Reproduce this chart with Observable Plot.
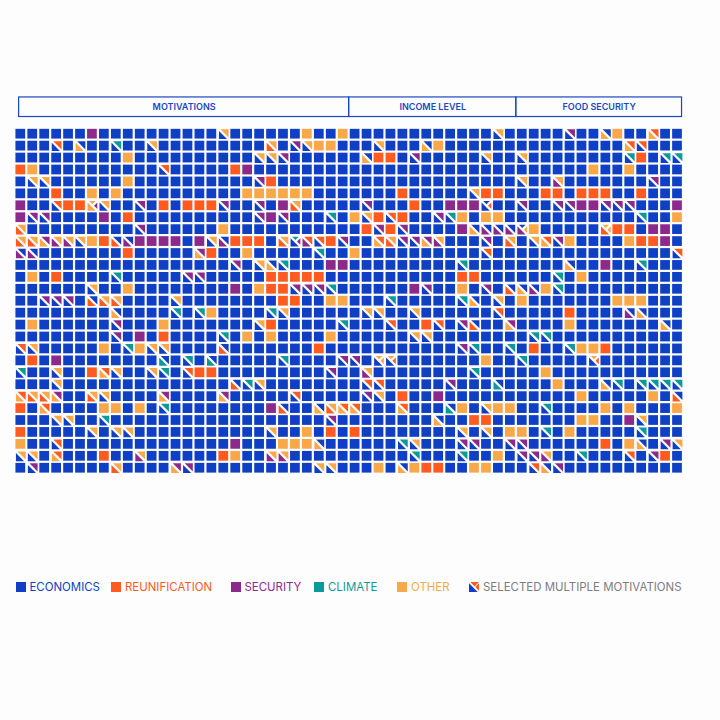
<!DOCTYPE html>
<html>
<head>
<meta charset="utf-8">
<script src="https://cdn.jsdelivr.net/npm/d3@7"></script>
<script src="https://cdn.jsdelivr.net/npm/@observablehq/plot@0.6"></script>
<style>
  html, body { margin: 0; padding: 0; background: #fdfdfd; width: 720px; height: 720px; overflow: hidden; }
  #chart { position: absolute; left: 0; top: 0; }
  #chart svg { display: block; }
  .item { position: absolute; top: 581.5px; height: 11px; font: 400 11.45px/11px Inter, "Liberation Sans", sans-serif; white-space: nowrap; }
  .item svg { position: absolute; left: 0; top: 0; }
  .item span { position: absolute; left: 14px; top: 0; }
</style>
</head>
<body>
<div id="chart"></div>
<div id="legend"></div>
<script>
// Categories: E economics, R reunification, S security, C climate, O other
const categoryKeys = ["E", "R", "S", "C", "O"];
const categoryNames = ["ECONOMICS", "REUNIFICATION", "SECURITY", "CLIMATE", "OTHER"];
const categoryColors = ["#0f3fc4", "#ff5a1f", "#8c2a8c", "#0b9a9a", "#f9a849"];
const multiLabel = "SELECTED MULTIPLE MOTIVATIONS";
const multiColor = "#7c7c84";

// Column groups
const groupNames = ["MOTIVATIONS", "INCOME LEVEL", "FOOD SECURITY"];
const groupStarts = [0.36, 28, 42];
const groupEnds = [28, 42, 55.88];

const columnCount = 56;
// Each row lists the respondents that are not plain economics: column + code.
// One letter: a single motivation. Two letters: lower-left, upper-right.
// Three letters: lower-left, top, right.
const rowCells = [
  "6S 17EO 24O 27O 40EO 46ES 49OE 50O 53OR",
  "3ER 5OE 8EC 11EO 21RO 23ES 24EO 25O 26O 30EO 34OE 35O 51OR 52ER",
  "9O 20EO 21EO 22ES 29OE 30R 31R 33ES 39EO 42EO 51EC 52R 54EC 55EC",
  "0R 1O 12ER 18R 19S 48O 51O",
  "1EO 2EO 9O 20ES 21R 42EO 45SO 53ES",
  "3R 6O 8O 19O 20O 21O 22O 23O 24O 32R 38EO 39R 40R 44R 45R 47R 48R 49R 52R",
  "0S 3ER 4R 5R 6OOS 7EO 10ES 12R 14R 15R 16R 17ES 20ES 22S 23RO 29ES 33R 36S 37S 38S 39EER 42ES 45ES 46ES 47S 48S 49ES 50ES 51ES 55S",
  "0S 1ES 2ES 7S 9R 20ES 21S 22ES 26EC 28O 29EO 30R 31ER 32R 35ES 36EC 37O 39O 40O 52EC 55O",
  "0RO 10ES 17O 29R 30ES 31R 32ES 37S 38OE 39SE 40SE 41SE 42SEO 43O 49ROO 50R 51R 53S 54S",
  "0RO 1RO 2OS 3SO 4SO 5EO 6O 7R 8RE 9SE 10S 11S 12S 13S 15S 16EO 17SE 18R 19R 20R 22RO 23ECS 24SR 25ER 26R 27ES 30OR 31RO 32ES 33ES 34OS 35SO 39ES 41RO 43EO 44OR 45ES 46O 51O 52R 53R 54S",
  "0SE 1SE 9R 15OS 16R 19O 25EC 28O 39ER 55ER",
  "18ES 20EO 21OE 22EC 26S 27S 37EC 46OE 49S 52EC",
  "1O 3R 8EC 14ES 15ES 21R 22R 23R 24R 25R 37R 38R 45EC 47O",
  "6EO 9O 18S 20O 21R 22R 23ES 24ES 25ES 26EC 33S 34ES 37O 39ES 41RE 42OE 43SE 44O 45EC",
  "2ES 3ES 4ES 6RE 7RO 8RO 13EO 22R 23R 26O 27O 31EC 37EC 38OE 40EO 42O 50O 51O 52O",
  "8OE 13EC 15EC 16O 21EC 22EO 29EO 30EO 33EO 40ER 46R 51SE 52OE",
  "1O 8ES 12O 20EO 21R 27EC 31ER 34R 35ER 37ES 38RE 41OS 46O 54OE",
  "8ES 10S 12R 17EC 19O 21O 26O 33EO 34EO 43EC 44EC",
  "0ER 1EO 7O 9EC 10O 11EO 12EO 17RE 25R 37ES 38EC 41EC 43R 46EC 47O 48O 49R",
  "1R 3S 12CE 14EC 16CE 22EC 27ES 28ES 30EOO 31EOR 39O 42EC 48EOR",
  "0EC 3EO 6R 7OR 8EO 11EO 12EC 14ER 15R 16R 26ES 29SO 38EC 44O",
  "3EO 18RE 19EC 20EO 29ER 30ER 36ES 40CE 45O 49OE 50EC 52EC 53EC 54EC 55EC",
  "0OR 1RO 2RO 3OS 6RO 7EO 12OS 17OS 23ER 29ES 30EO 32R 35S 47O 53O 55RE",
  "0R 2OR 7O 8O 10O 12EC 21S 22RE 25OE 26RO 27OR 28OR 32OR 36CE 37O 39EO 40O 41O 44EC 49O 51O 55O",
  "3EO 4EO 7EC 26ES 35OE 38R 39R 47O 48O 51S 52EO",
  "0R 6EO 8EO 9EO 21EO 24O 26R 28R 37EO 39EO 41O 42O 44EC 46O 52EC",
  "0O 3ER 18S 22O 23O 24O 25OE 32EC 33EO 37ES 38ES 41ES 42ES 49R 51O 52OE 54ES 55EO",
  "0EO 1EO 3OR 7R 10SO 17R 18O 21SO 22SO 33EC 37EC 40O 42ES 43ES 44SO 47EC 51ER 53ES 54R",
  "1ES 8RO 13OS 14ES 25EO 26EO 30O 32OE 33O 34R 35R 38O 39O 43ER 44OE 45ES"
];

// Expand to one record per respondent
const cells = [];
rowCells.forEach((line, r) => {
  const codes = new Map(line.split(" ").map(t => [+t.match(/\d+/)[0], t.match(/[A-Z]+/)[0]]));
  for (let c = 0; c < columnCount; ++c) {
    const code = codes.get(c) ?? "E";
    cells.push({r, c, code});
  }
});
const solid = cells.filter(d => d.code.length === 1);
const split = cells.filter(d => d.code.length > 1);
const halves = split.filter(d => d.code.length === 2);
const thirds = split.filter(d => d.code.length === 3);
const groups = groupNames.map((name, i) => ({name, start: groupStarts[i], end: groupEnds[i]}));

// Triangular symbols; gap keeps the white diagonal between the parts
const gap = 1.6;
const shape = pts => ({
  draw(ctx, size) {
    const s = Math.sqrt(size / Math.PI);
    pts(s).forEach(([x, y], i) => i ? ctx.lineTo(x, y) : ctx.moveTo(x, y));
    ctx.closePath();
  }
});
const lowerLeft = shape(s => [[-s, -s + gap], [-s, s], [s - gap, s]]);
const upperRight = shape(s => [[-s + gap, -s], [s, -s], [s, s - gap]]);
const topPart = shape(s => [[-s + gap, -s], [s - gap, -s], [0, -gap]]);
const rightPart = shape(s => [[s, -s + gap], [s, s - gap], [gap, 0]]);

const pitchX = 11.94, pitchY = 11.93, inset = 1.1;
const side = 4.87;
const blue = "#1b47c6";
const X = d => d.c + 0.5, Y = d => d.r + 0.5;
const tri = (data, symbol, fill) => Plot.dot(data, {x: X, y: Y, r: side, symbol, fill, stroke: "none"});

const height = 540;
const top0 = 127.73;
const left0 = 14.33;

const chart = Plot.plot({
  width: 720,
  height,
  marginLeft: left0,
  marginRight: 720 - left0 - pitchX * columnCount,
  marginTop: top0,
  marginBottom: height - top0 - pitchY * rowCells.length,
  style: {background: "transparent"},
  x: {axis: null, domain: [0, columnCount]},
  y: {axis: null, domain: [0, rowCells.length], reverse: true},
  color: {domain: categoryKeys, range: categoryColors, legend: false},
  marks: [
    Plot.rect(groups, {x1: "start", x2: "end", y1: -2.58, y2: -0.94, fill: "none", stroke: blue, strokeWidth: 1.2}),
    Plot.text(groups, {
      x: d => (d.start + d.end) / 2, y: -1.8, text: "name", fill: blue,
      fontSize: 9, fontWeight: 600, fontFamily: "Inter, 'Liberation Sans', sans-serif"
    }),
    Plot.rect(solid, {
      x1: "c", x2: d => d.c + 1, y1: "r", y2: d => d.r + 1,
      inset, fill: "code"
    }),
    tri(halves, lowerLeft, d => d.code[0]),
    tri(halves, upperRight, d => d.code[1]),
    tri(thirds, lowerLeft, d => d.code[0]),
    tri(thirds, topPart, d => d.code[1]),
    tri(thirds, rightPart, d => d.code[2])
  ]
});
document.getElementById("chart").appendChild(chart);

// Legend below the chart
const legendLefts = [15.5, 111, 230.5, 314, 397, 469];
const legend = document.getElementById("legend");
const squareSwatch = color => `<svg width="10" height="10"><rect width="10" height="10" fill="${color}"/></svg>`;
const multiSwatch = `<svg width="10" height="10">
  <polygon points="0,1.3 0,10 8.7,10" fill="${categoryColors[0]}"/>
  <polygon points="1.3,0 10,0 5.6,4.4" fill="${categoryColors[1]}"/>
  <polygon points="10,1.3 10,8.7 6.3,5" fill="${categoryColors[1]}"/>
</svg>`;
categoryNames.concat([multiLabel]).forEach((name, i) => {
  const color = i < categoryNames.length ? categoryColors[i] : multiColor;
  const item = document.createElement("div");
  item.className = "item";
  item.style.left = legendLefts[i] + "px";
  item.style.color = color;
  item.innerHTML = (i < categoryNames.length ? squareSwatch(color) : multiSwatch) + `<span>${name}</span>`;
  legend.appendChild(item);
});
</script>
</body>
</html>
